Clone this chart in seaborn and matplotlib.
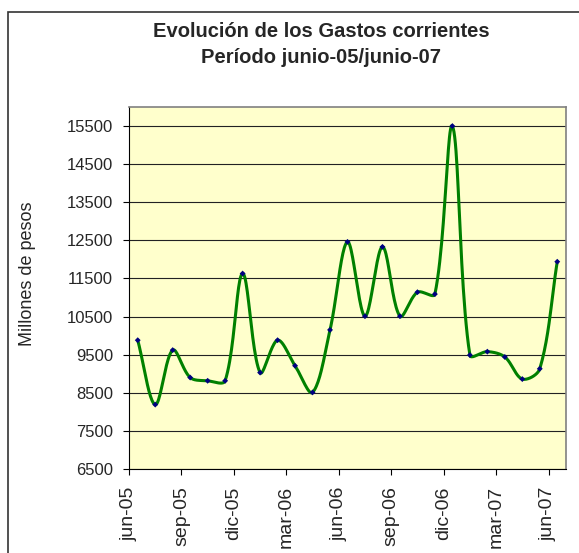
import numpy as np
import matplotlib
matplotlib.use("Agg")
import matplotlib.pyplot as plt
import seaborn as sns
from matplotlib.patches import Rectangle

# monthly values, jun-05 .. jun-07
meses = ["jun-05", "jul-05", "ago-05", "sep-05", "oct-05", "nov-05", "dic-05",
         "ene-06", "feb-06", "mar-06", "abr-06", "may-06", "jun-06", "jul-06",
         "ago-06", "sep-06", "oct-06", "nov-06", "dic-06", "ene-07", "feb-07",
         "mar-07", "abr-07", "may-07", "jun-07"]
gastos = [9880, 8190, 9620, 8900, 8815, 8815, 11630, 9030, 9880, 9210, 8510,
          10150, 12460, 10510, 12330, 10510, 11140, 11090, 15500, 9490, 9580,
          9440, 8860, 9130, 11940]
tick_labels = ["jun-05", "sep-05", "dic-05", "mar-06", "jun-06", "sep-06",
               "dic-06", "mar-07", "jun-07"]


def smooth(x, y, sx=17.5, sy=0.0381, n=24):
    # bezier smoothing in screen units, handles scaled by segment length
    # (close to Excel's "smoothed line")
    P = np.column_stack([np.asarray(x) * sx, np.asarray(y) * sy])
    Pe = np.vstack([P[0], P, P[-1]])
    seg = np.linalg.norm(np.diff(Pe, axis=0), axis=1)
    t = np.linspace(0, 1, n)[:, None]
    pts = []
    for i in range(len(P) - 1):
        a, b = i + 1, i + 2
        d0 = Pe[a + 1] - Pe[a - 1]
        d1 = Pe[b + 1] - Pe[b - 1]
        s0 = seg[a - 1] + seg[a]
        s1 = seg[b - 1] + seg[b]
        c1 = Pe[a] + d0 * (seg[a] / s0 if s0 else 0) / 3
        c2 = Pe[b] - d1 * (seg[b - 1] / s1 if s1 else 0) / 3
        pts.append((1 - t) ** 3 * Pe[a] + 3 * (1 - t) ** 2 * t * c1
                   + 3 * (1 - t) * t ** 2 * c2 + t ** 3 * Pe[b])
    pts = np.vstack(pts)
    return pts[:, 0] / sx, pts[:, 1] / sy


sns.set_style("white")
plt.rcParams["font.family"] = ["Liberation Sans", "DejaVu Sans"]

fig = plt.figure(figsize=(5.79, 5.53), dpi=100)
ax = fig.add_axes([129 / 579, 1 - 469 / 553, 437 / 579, 362 / 553])
ax.set_facecolor("#FFFFCC")

x = np.arange(len(gastos)) + 0.5
cx, cy = smooth(x, np.array(gastos, dtype=float))
sns.lineplot(x=cx, y=cy, sort=False, estimator=None, color="#008000",
             linewidth=2.2, ax=ax)
sns.scatterplot(x=x, y=gastos, marker="D", s=9, color="#000080",
                edgecolor="none", zorder=5, ax=ax)

ax.set_xlim(0, len(gastos))
ax.set_ylim(6500, 16000)
ax.set_yticks(np.arange(6500, 15501, 1000))
ax.set_xticks(np.arange(0, len(gastos), 3))
ax.set_xticklabels(tick_labels, rotation=90, fontsize=14)
ax.tick_params(axis="y", labelsize=12, pad=7)
ax.tick_params(axis="x", pad=8)
ax.tick_params(direction="out", length=4.5, width=0.8, color="black",
               bottom=True, left=True)
ax.yaxis.grid(True, color="#222222", linewidth=0.8)
ax.xaxis.grid(False)
ax.set_axisbelow(True)

for side in ["left", "bottom"]:
    ax.spines[side].set_color("black")
    ax.spines[side].set_linewidth(0.8)
for side in ["top", "right"]:
    ax.spines[side].set_color("#808080")
    ax.spines[side].set_linewidth(1.2)

ax.set_xlabel("")
ax.set_ylabel("")
fig.text(27 / 579, 1 - 274 / 553, "Millones de pesos", rotation=90,
         ha="center", va="center", fontsize=13)
fig.text(321 / 579, 1 - 22 / 553,
         "Evolución de los Gastos corrientes\nPeríodo junio-05/junio-07",
         ha="center", va="top", fontsize=14.5, fontweight="bold",
         linespacing=1.45)

fig.patches.append(Rectangle((8 / 579, -0.1), 1.2, 1.1 - 12 / 553,
                             transform=fig.transFigure, fill=False,
                             edgecolor="#333333", linewidth=1.2))

fig.savefig("out.png", dpi=100)
